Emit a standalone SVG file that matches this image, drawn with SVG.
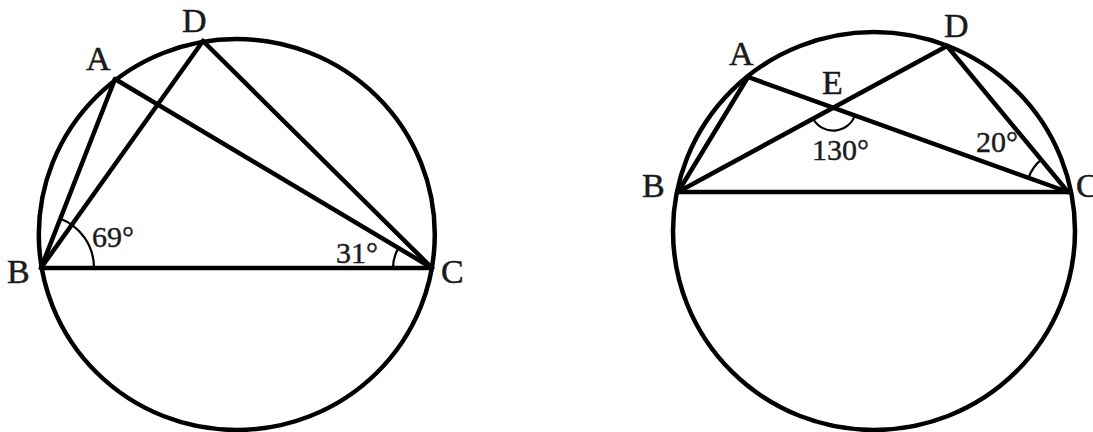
<svg xmlns="http://www.w3.org/2000/svg" width="1093" height="432" viewBox="0 0 1093 432">
<style>
.c{fill:none;stroke:#000;stroke-width:4.5}
.l{stroke:#000;stroke-width:4.5;stroke-linecap:round}
.a{fill:none;stroke:#000;stroke-width:2.2}
.t{font-family:"Liberation Serif","Times New Roman",serif;font-size:34px;fill:#1a1a1a;stroke:#1a1a1a;stroke-width:0.5}
.n{font-family:"Liberation Serif","Times New Roman",serif;font-size:30px;fill:#1a1a1a;stroke:#1a1a1a;stroke-width:0.4}
</style>
<rect width="1093" height="432" fill="#fff"/>
<g id="figure-left">
<ellipse class="c" cx="236.8" cy="234.5" rx="198" ry="195.5"/>
<g id="connectors-left">
<line class="l" x1="41" y1="268" x2="432" y2="268"/>
<line class="l" x1="41" y1="268" x2="115" y2="79"/>
<line class="l" x1="115" y1="79" x2="432" y2="268"/>
<line class="l" x1="41" y1="268" x2="203" y2="41"/>
<line class="l" x1="203" y1="41" x2="432" y2="268"/>
</g>
<path class="a" d="M94,268 A53,53 0 0 0 60,218.5"/>
<path class="a" d="M393,268 A39,39 0 0 1 398.6,247.9"/>
<text class="t" x="182" y="32">D</text>
<text class="t" x="86" y="70">A</text>
<text class="t" x="7" y="283">B</text>
<text class="t" x="441" y="283">C</text>
<text class="n" x="92" y="247">69°</text>
<text class="n" x="336" y="263">31°</text>
</g>
<g id="figure-right">
<ellipse class="c" cx="874" cy="231" rx="201" ry="199"/>
<g id="connectors-right">
<line class="l" x1="678" y1="192" x2="1068" y2="192"/>
<line class="l" x1="678" y1="192" x2="748" y2="77"/>
<line class="l" x1="748" y1="77" x2="1068" y2="192"/>
<line class="l" x1="678" y1="192" x2="947" y2="46"/>
<line class="l" x1="947" y1="46" x2="1068" y2="192"/>
</g>
<path class="a" d="M854.9,115.5 A23,23 0 0 1 813.1,118.7"/>
<path class="a" d="M1028.5,177.8 A42,42 0 0 1 1041.2,159.7"/>
<text class="t" x="944" y="37">D</text>
<text class="t" x="729" y="65">A</text>
<text class="t" x="822" y="94">E</text>
<text class="t" x="642" y="197">B</text>
<text class="t" x="1076" y="197">C</text>
<text class="n" x="812" y="160">130°</text>
<text class="n" x="976" y="152">20°</text>
</g>
</svg>
